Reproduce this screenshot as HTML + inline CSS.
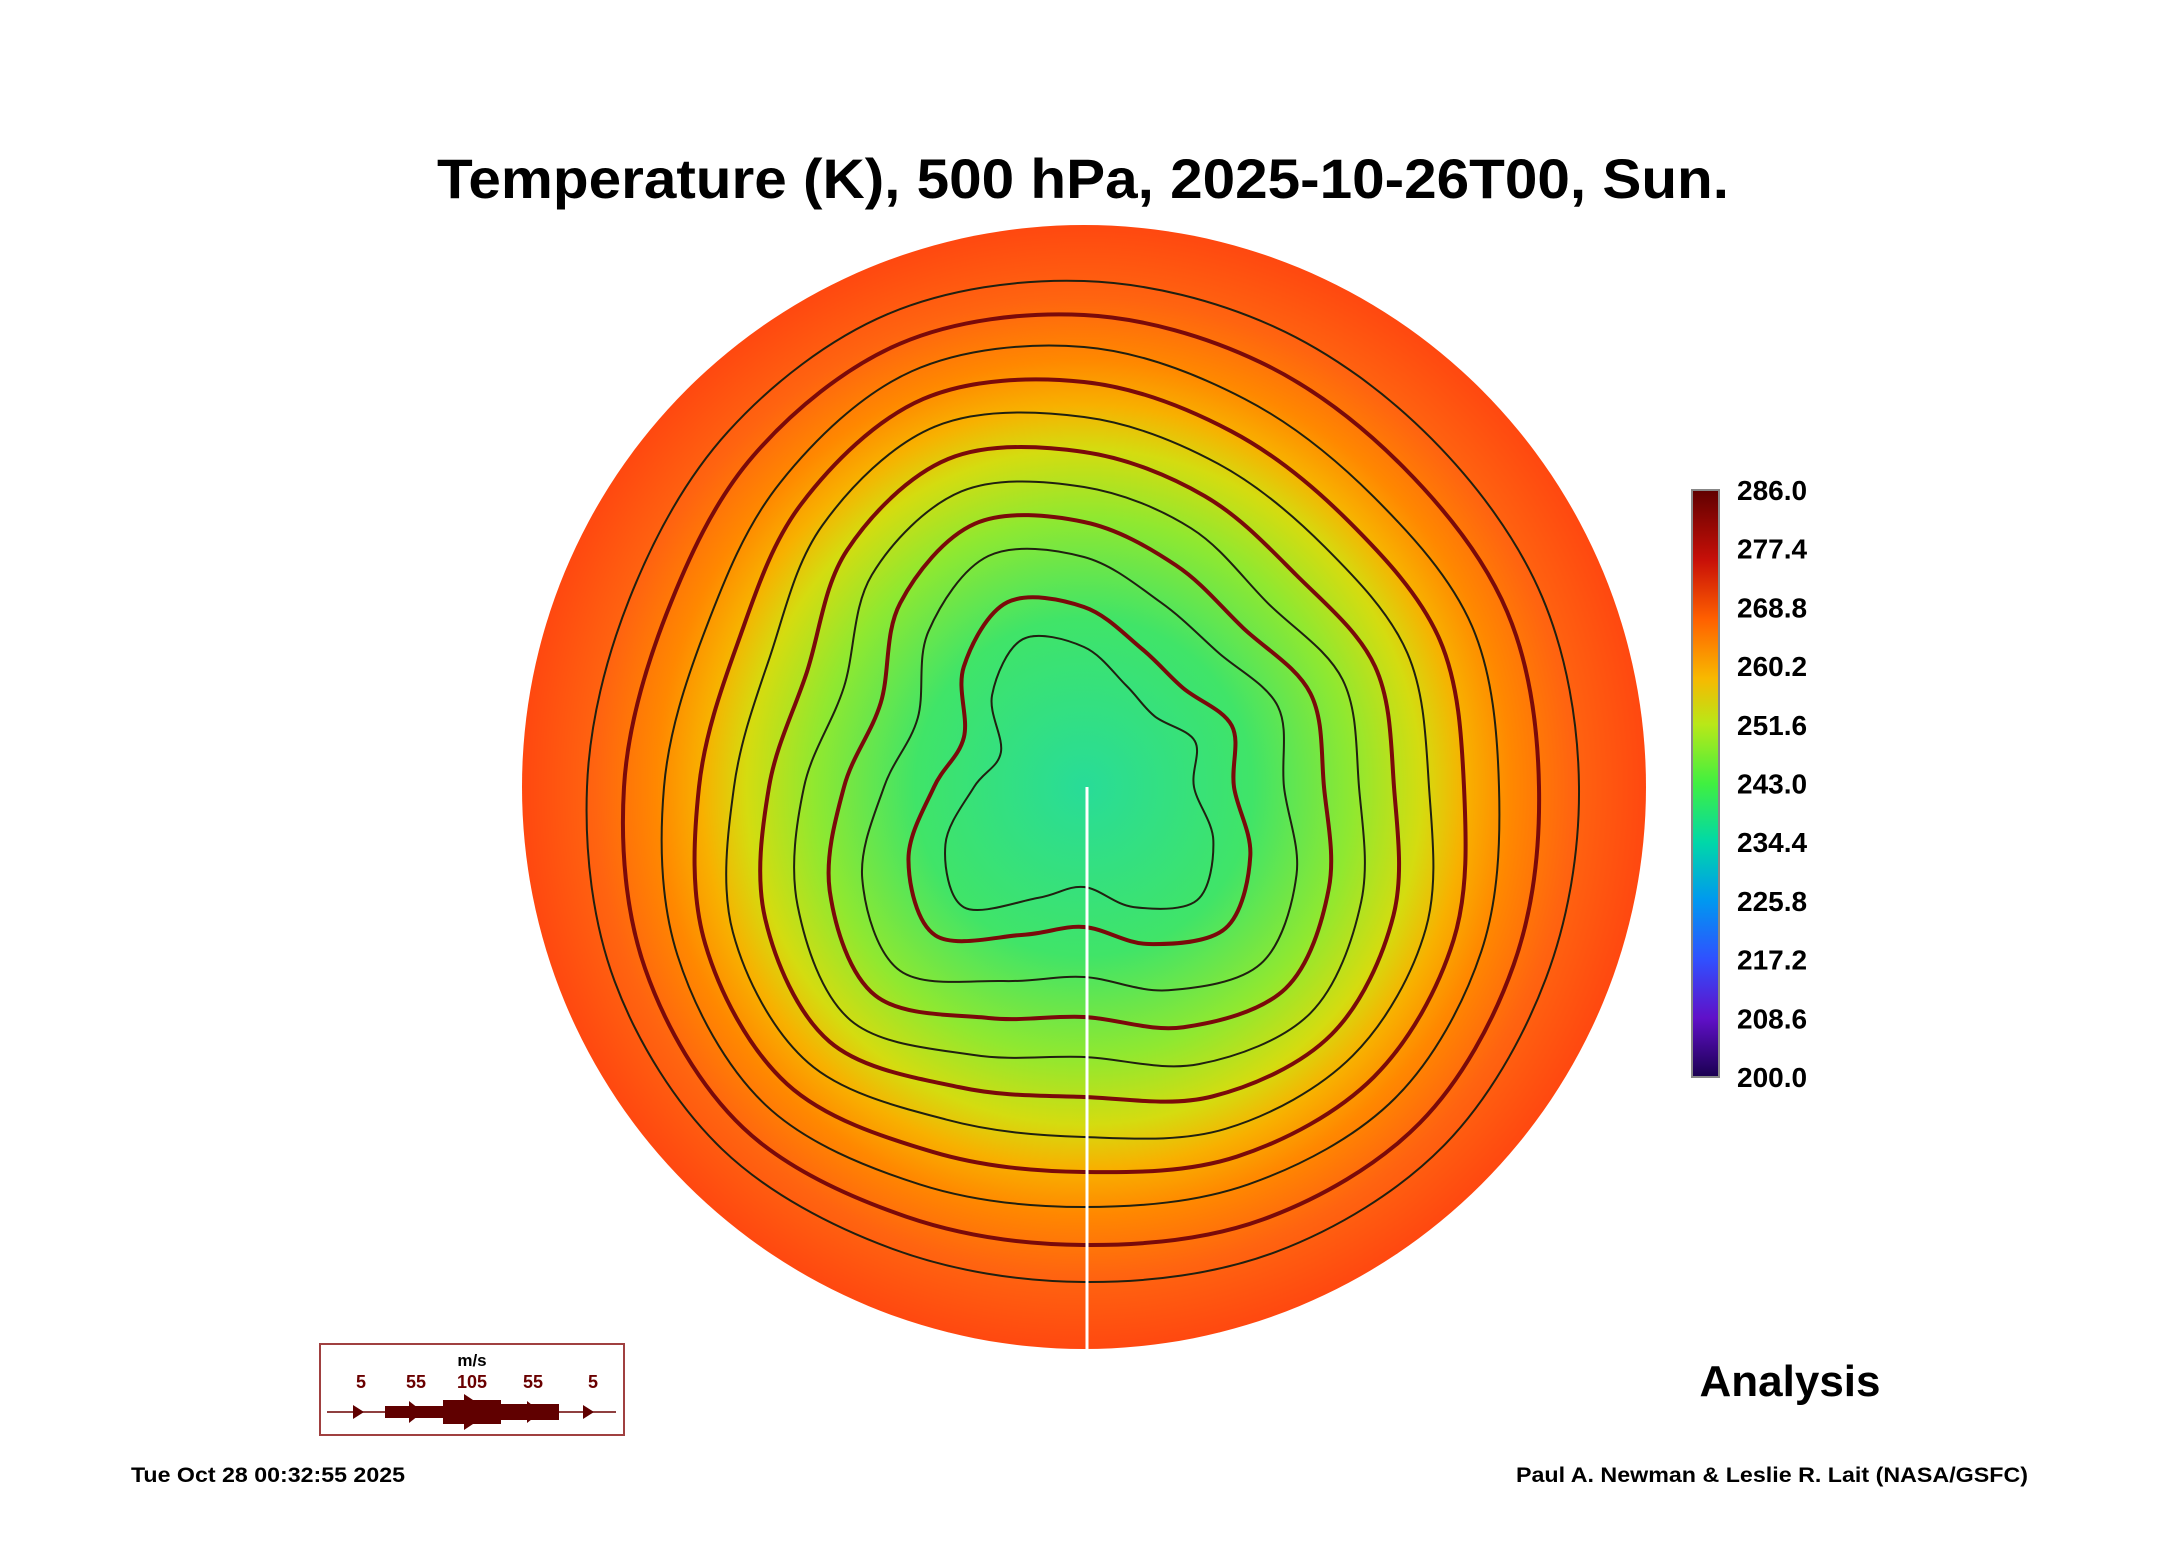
<!DOCTYPE html>
<html><head><meta charset="utf-8"><style>
html,body{margin:0;padding:0;background:#fff}
svg{display:block}
text{font-family:"Liberation Sans",Arial,sans-serif;font-weight:bold}
</style></head><body>
<svg id="chart" width="2165" height="1561" viewBox="0 0 2165 1561">
<defs>
<radialGradient id="tg" cx="1084" cy="787" r="562" gradientUnits="userSpaceOnUse">
<stop offset="0" stop-color="#28dc98"/>
<stop offset="0.3" stop-color="#40e468"/>
<stop offset="0.48" stop-color="#90e830"/>
<stop offset="0.6" stop-color="#d4dc10"/>
<stop offset="0.68" stop-color="#f8b000"/>
<stop offset="0.76" stop-color="#ff8800"/>
<stop offset="0.87" stop-color="#ff6410"/>
<stop offset="1" stop-color="#ff4810"/>
</radialGradient>
<linearGradient id="cb" x1="0" y1="1" x2="0" y2="0">
<stop offset="0" stop-color="#1a0050"/>
<stop offset="0.1" stop-color="#6010c8"/>
<stop offset="0.2" stop-color="#3050ff"/>
<stop offset="0.3" stop-color="#0098f0"/>
<stop offset="0.4" stop-color="#00d8a8"/>
<stop offset="0.5" stop-color="#40f040"/>
<stop offset="0.6" stop-color="#b8e818"/>
<stop offset="0.68" stop-color="#f8b800"/>
<stop offset="0.78" stop-color="#ff6000"/>
<stop offset="0.88" stop-color="#c81008"/>
<stop offset="1" stop-color="#600000"/>
</linearGradient>
<clipPath id="cc"><circle cx="1084" cy="787" r="562"/></clipPath>
</defs>
<text x="1083" y="198" font-size="56" text-anchor="middle" textLength="1292" lengthAdjust="spacingAndGlyphs">Temperature (K), 500 hPa, 2025-10-26T00, Sun.</text>
<circle cx="1084" cy="787" r="562" fill="url(#tg)"/>
<g id="contours" clip-path="url(#cc)"></g>
<line x1="1087" y1="787" x2="1087" y2="1349" stroke="#fff" stroke-width="3"/>
<rect x="1692" y="490" width="27" height="587" fill="url(#cb)" stroke="#888" stroke-width="2"/>
<g id="cblabels"></g>
<text x="1790" y="1396" font-size="44" text-anchor="middle">Analysis</text>
<g>
<rect x="320" y="1344" width="304" height="91" fill="none" stroke="#a04040" stroke-width="2"/>
<text x="472" y="1366" font-size="17" text-anchor="middle" fill="#000">m/s</text>
<g fill="#6a0000" font-size="18" text-anchor="middle">
<text x="361" y="1388">5</text><text x="416" y="1388">55</text><text x="472" y="1388">105</text><text x="533" y="1388">55</text><text x="593" y="1388">5</text></g>
<line x1="327" y1="1412" x2="616" y2="1412" stroke="#6a0000" stroke-width="1.5"/>
<rect x="385" y="1406" width="58" height="12" fill="#600000"/>
<rect x="443" y="1400" width="58" height="24" fill="#600000"/>
<rect x="501" y="1404" width="58" height="16" fill="#600000"/>
<polygon points="353,1405 364,1412 353,1419" fill="#600000"/>
<polygon points="409,1401 423,1412 409,1423" fill="#600000"/>
<polygon points="464,1394 491,1412 464,1430" fill="#600000"/>
<polygon points="527,1401 541,1412 527,1423" fill="#600000"/>
<polygon points="583,1405 594,1412 583,1419" fill="#600000"/>
</g>
<text x="131" y="1482" font-size="21" textLength="274" lengthAdjust="spacingAndGlyphs">Tue Oct 28 00:32:55 2025</text>
<text x="1516" y="1482" font-size="21" textLength="512" lengthAdjust="spacingAndGlyphs">Paul A. Newman &amp; Leslie R. Lait (NASA/GSFC)</text>
</svg>
<script>
const cbTicks=["286.0","277.4","268.8","260.2","251.6","243.0","234.4","225.8","217.2","208.6","200.0"];
const contourLevels=[232,236,240,244,248,252,256,260,264,268,272];
const contourRadii=[
[110,140,160,130,100,120,170,150,110,90,130,160,140,110,100,120],
[150,180,200,170,140,160,210,190,150,130,170,200,180,150,140,160],
[200,230,250,220,190,210,260,240,200,180,220,250,230,200,190,210],
[240,265,285,260,230,250,295,275,240,220,260,285,265,240,225,245],
[275,300,320,300,270,290,330,310,280,260,300,320,300,280,260,280],
[310,335,350,335,310,325,360,345,315,300,335,355,335,315,300,315],
[345,370,380,370,350,360,390,380,350,340,370,390,370,350,340,350],
[380,400,410,400,385,395,420,410,385,375,400,420,405,385,375,385],
[415,430,440,430,420,430,450,440,420,410,430,450,440,420,410,420],
[455,465,475,468,458,465,482,475,460,452,468,480,472,460,452,458],
[495,500,508,503,495,500,512,508,497,492,503,512,506,498,492,496]];
const NS='http://www.w3.org/2000/svg';
const cbl=document.getElementById('cblabels');
cbTicks.forEach((t,i)=>{
  const y=490+i*(587/(cbTicks.length-1));
  const tx=document.createElementNS(NS,'text');
  tx.setAttribute('x',1737);tx.setAttribute('y',y+10);tx.setAttribute('font-size',28);
  tx.textContent=t;
  
  
  cbl.appendChild(tx);
});
const cg=document.getElementById('contours');
contourRadii.forEach((rs,k)=>{
  const n=rs.length,pts=[];
  for(let i=0;i<n;i++){const a=i/n*2*Math.PI;pts.push([1084+rs[i]*Math.cos(a),787+rs[i]*Math.sin(a)]);}
  let d='M'+pts[0].join(',');
  for(let i=0;i<n;i++){
    const p0=pts[(i-1+n)%n],p1=pts[i],p2=pts[(i+1)%n],p3=pts[(i+2)%n];
    d+=' C'+(p1[0]+(p2[0]-p0[0])/6)+','+(p1[1]+(p2[1]-p0[1])/6)+' '+(p2[0]-(p3[0]-p1[0])/6)+','+(p2[1]-(p3[1]-p1[1])/6)+' '+p2[0]+','+p2[1];
  }
  const p=document.createElementNS(NS,'path');
  p.setAttribute('d',d+'Z');p.setAttribute('fill','none');
  p.setAttribute('stroke',k%2?'#7a0a0a':'#202010');p.setAttribute('stroke-width',k%2?4:2);
  
  
  cg.appendChild(p);
});
</script>
</body></html>
